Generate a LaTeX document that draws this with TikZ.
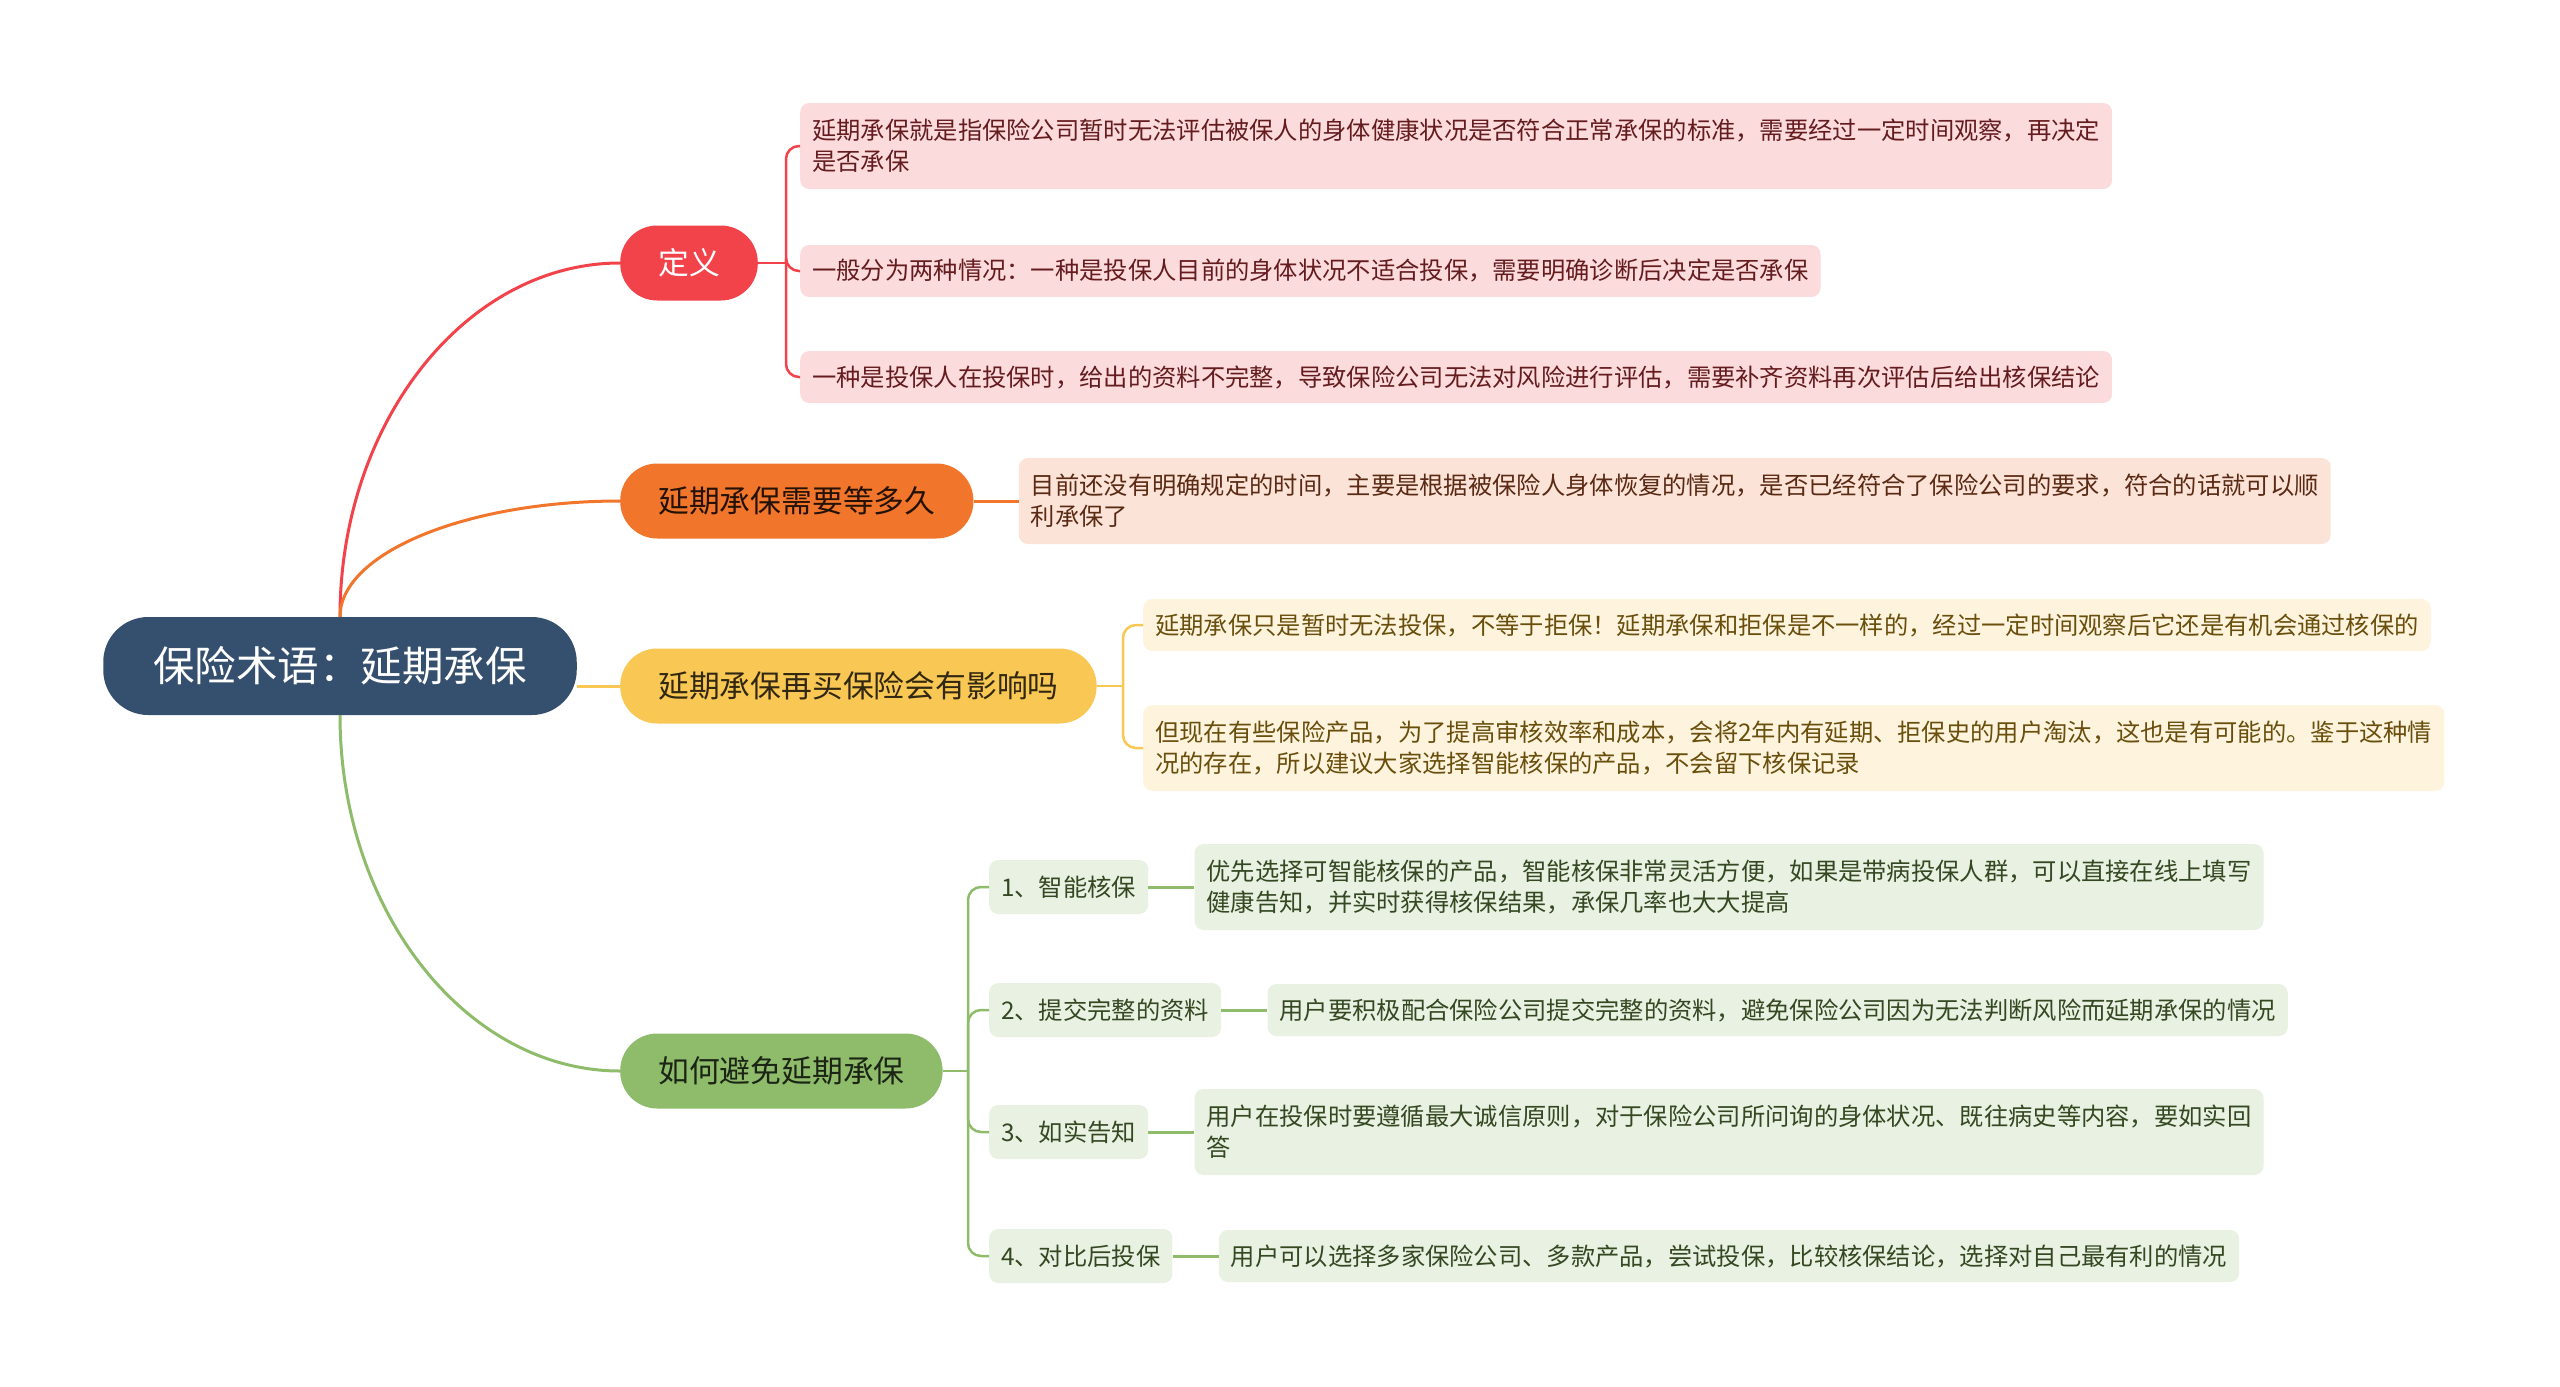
\documentclass[tikz,border=0pt]{standalone}
\usepackage{fontspec}
\setmainfont{Noto Sans CJK SC}
\usetikzlibrary{calc, positioning}
\definecolor{rootblue}{RGB}{53,80,110}
\definecolor{myred}{RGB}{242,67,74}
\definecolor{myorange}{RGB}{241,117,43}
\definecolor{myyellow}{RGB}{248,199,84}
\definecolor{mygreen}{RGB}{142,188,106}
\definecolor{lfred}{RGB}{252,219,221}
\definecolor{lforange}{RGB}{252,227,215}
\definecolor{lfyellow}{RGB}{254,244,222}
\definecolor{lfgreen}{RGB}{233,241,226}
\definecolor{txred}{RGB}{100,28,30}
\definecolor{txorange}{RGB}{90,42,20}
\definecolor{txyellow}{RGB}{105,78,12}
\definecolor{txgreen}{RGB}{52,72,34}
\tikzset{
  rootnode/.style={rectangle, fill=rootblue, text=white, rounded corners=45pt,
    minimum height=98pt, inner xsep=50pt, font=\fontsize{41.5}{48}\selectfont},
  branch/.style={rectangle, anchor=west, rounded corners=37pt, minimum height=75pt,
    inner xsep=38pt, font=\fontsize{30.8}{36}\selectfont},
  leaf/.style={rectangle, anchor=west, align=left, rounded corners=9pt,
    inner xsep=12pt, inner ysep=12pt, minimum height=52pt,
    font=\fontsize{24.3}{31}\selectfont},
  twoline/.style={minimum height=86pt},
  subnode/.style={leaf, fill=lfgreen, text=txgreen, minimum height=54pt},
  link/.style={line width=3pt},
  bracket/.style={line width=2.5pt, rounded corners=13pt},
  branchcurve/.style={to path={.. controls ($(\tikztostart)!0.55!(\tikztostart |- \tikztotarget)$)
    and ($(\tikztotarget)!0.55!(\tikztostart |- \tikztotarget)$) .. (\tikztotarget)}}
}

\begin{document}
\begin{tikzpicture}[x=1pt, y=-1pt]
  \useasboundingbox (0,0) rectangle (2560,1387);

  % Root and main branches
  \node[rootnode] (root) at (340,666) {保险术语：延期承保};

  \node[branch, fill=myred, text=white] (def) at (620,263) {定义};
  \node[branch, fill=myorange, text=black!85!myorange] (ora) at (620,501) {延期承保需要等多久};
  \node[branch, fill=myyellow, text=black!80!myyellow] (yel) at (620,686) {延期承保再买保险会有影响吗};
  \node[branch, fill=mygreen, text=black!80!mygreen] (grn) at (620,1071) {如何避免延期承保};

  \draw[link, myred] (root.north) to[branchcurve] (def.west);
  \draw[link, myorange] (root.north) to[branchcurve] (ora.west);
  \draw[link, myyellow] (root.east |- yel.west) -- (yel.west);
  \draw[link, mygreen] (root.south) to[branchcurve] (grn.west);

  % Definition
  \node[leaf, twoline, fill=lfred, text=txred] (def1) at (800,146)
    {延期承保就是指保险公司暂时无法评估被保人的身体健康状况是否符合正常承保的标准，需要经过一定时间观察，再决定\\是否承保};
  \node[leaf, fill=lfred, text=txred] (def2) at (800,271)
    {一般分为两种情况：一种是投保人目前的身体状况不适合投保，需要明确诊断后决定是否承保};
  \node[leaf, fill=lfred, text=txred] (def3) at (800,377)
    {一种是投保人在投保时，给出的资料不完整，导致保险公司无法对风险进行评估，需要补齐资料再次评估后给出核保结论};

  \coordinate (defb) at (786,263);
  \draw[link, myred, line width=2.5pt] (def.east) -- (defb);
  \foreach \n in {def1, def2, def3}
    \draw[bracket, myred] (defb) |- (\n.west);

  % How long
  \node[leaf, twoline, fill=lforange, text=txorange, right=45pt of ora] (ora1)
    {目前还没有明确规定的时间，主要是根据被保险人身体恢复的情况，是否已经符合了保险公司的要求，符合的话就可以顺\\利承保了};
  \draw[link, myorange] (ora.east) -- (ora1.west);

  % Influence
  \node[leaf, fill=lfyellow, text=txyellow] (yel1) at (1143,625)
    {延期承保只是暂时无法投保，不等于拒保！延期承保和拒保是不一样的，经过一定时间观察后它还是有机会通过核保的};
  \node[leaf, twoline, fill=lfyellow, text=txyellow] (yel2) at (1143,748)
    {但现在有些保险产品，为了提高审核效率和成本，会将2年内有延期、拒保史的用户淘汰，这也是有可能的。鉴于这种情\\况的存在，所以建议大家选择智能核保的产品，不会留下核保记录};

  \coordinate (yelb) at (1123,686);
  \draw[link, myyellow, line width=2.5pt] (yel.east) -- (yelb);
  \foreach \n in {yel1, yel2}
    \draw[bracket, myyellow] (yelb) |- (\n.west);

  % Avoiding
  \node[subnode] (g1) at (989,887) {1、智能核保};
  \node[subnode] (g2) at (989,1010) {2、提交完整的资料};
  \node[subnode] (g3) at (989,1132) {3、如实告知};
  \node[subnode] (g4) at (989,1256) {4、对比后投保};

  \node[leaf, twoline, fill=lfgreen, text=txgreen, right=46pt of g1] (gl1)
    {优先选择可智能核保的产品，智能核保非常灵活方便，如果是带病投保人群，可以直接在线上填写\\健康告知，并实时获得核保结果，承保几率也大大提高};
  \node[leaf, fill=lfgreen, text=txgreen, right=46pt of g2] (gl2)
    {用户要积极配合保险公司提交完整的资料，避免保险公司因为无法判断风险而延期承保的情况};
  \node[leaf, twoline, fill=lfgreen, text=txgreen, right=46pt of g3] (gl3)
    {用户在投保时要遵循最大诚信原则，对于保险公司所问询的身体状况、既往病史等内容，要如实回\\答};
  \node[leaf, fill=lfgreen, text=txgreen, right=46pt of g4] (gl4)
    {用户可以选择多家保险公司、多款产品，尝试投保，比较核保结论，选择对自己最有利的情况};

  \coordinate (grnb) at (968,1071);
  \draw[link, mygreen, line width=2.5pt] (grn.east) -- (grnb);
  \foreach \i in {1,...,4} {
    \draw[bracket, mygreen] (grnb) |- (g\i.west);
    \draw[link, mygreen] (g\i.east) -- (gl\i.west);
  }
\end{tikzpicture}
\end{document}
